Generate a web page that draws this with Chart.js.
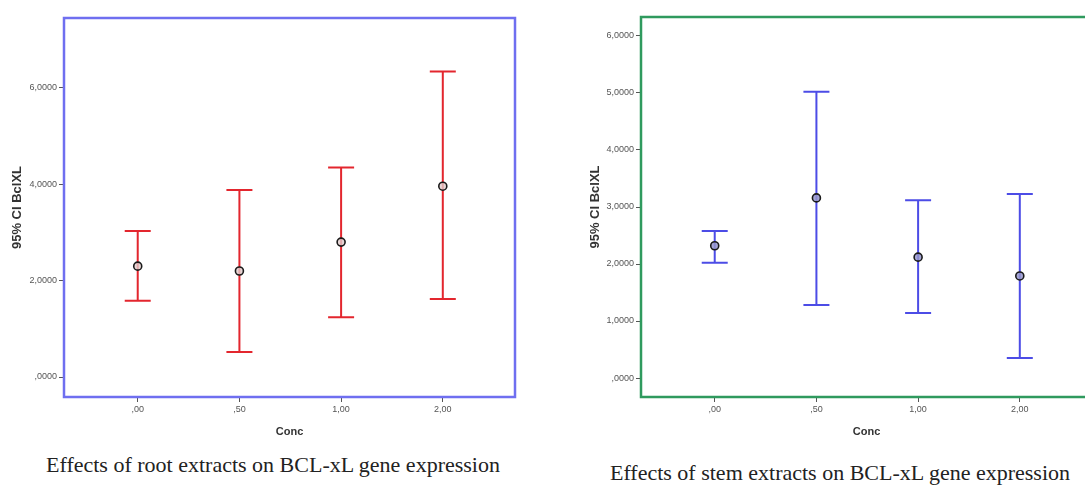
<!DOCTYPE html>
<html>
<head>
<meta charset="utf-8">
<script src="https://cdn.jsdelivr.net/npm/chart.js@4.4.0/dist/chart.umd.min.js"></script>
<style>
html,body{margin:0;padding:0;background:#fff;overflow:hidden;width:1085px;height:486px;}
#c1{position:absolute;left:0;top:0;}
#c2{position:absolute;left:577px;top:0;}
.cap{position:absolute;font-family:"Liberation Serif","Times New Roman",serif;font-size:22px;color:#222;white-space:nowrap;transform:translateX(-50%);}
</style>
</head>
<body>
<canvas id="c1" width="540" height="440"></canvas>
<canvas id="c2" width="540" height="440"></canvas>
<div class="cap" style="left:273px;top:452px;">Effects of root extracts on BCL-xL gene expression</div>
<div class="cap" style="left:840px;top:460px;">Effects of stem extracts on BCL-xL gene expression</div>
<script>
const categories = [",00", ",50", "1,00", "2,00"];

const rootMean  = [2.30, 2.20, 2.80, 3.96];
const rootUpper = [3.03, 3.88, 4.35, 6.34];
const rootLower = [1.58, 0.52, 1.24, 1.62];

const stemMean  = [2.32, 3.16, 2.12, 1.79];
const stemUpper = [2.58, 5.02, 3.12, 3.23];
const stemLower = [2.02, 1.28, 1.14, 0.35];

const rootYTicks = [0, 2, 4, 6];
const stemYTicks = [0, 1, 2, 3, 4, 5, 6];

function fmtY(v){
  const s = v.toFixed(4).replace('.', ',');
  return s.startsWith('0') ? s.slice(1) : s;
}

const errorBarPlugin = {
  id: 'errbars',
  beforeDatasetsDraw(chart, args, opts){
    const ctx = chart.ctx, xs = chart.scales.x, ys = chart.scales.y;
    ctx.save();
    ctx.strokeStyle = opts.color;
    ctx.lineWidth = 2;
    opts.upper.forEach((u, i) => {
      const x = xs.getPixelForValue(i);
      const yu = ys.getPixelForValue(u);
      const yl = ys.getPixelForValue(opts.lower[i]);
      ctx.beginPath();
      ctx.moveTo(x, yu); ctx.lineTo(x, yl);
      ctx.moveTo(x - 13, yu); ctx.lineTo(x + 13, yu);
      ctx.moveTo(x - 13, yl); ctx.lineTo(x + 13, yl);
      ctx.stroke();
    });
    ctx.restore();
  },
  afterDraw(chart, args, opts){
    const ctx = chart.ctx, a = chart.chartArea;
    ctx.save();
    ctx.strokeStyle = opts.frame;
    ctx.lineWidth = 2.5;
    ctx.strokeRect(a.left, a.top, a.right - a.left, a.bottom - a.top);
    ctx.restore();
  }
};

function makeChart(id, mean, upper, lower, yTicks, ymin, ymax, barColor, frameColor, markerFill, titlePad, topPad){
  return new Chart(document.getElementById(id), {
    type: 'scatter',
    data: {
      datasets: [{
        data: mean.map((m, i) => ({x: i, y: m})),
        pointRadius: 4,
        pointHoverRadius: 4,
        pointBorderWidth: 1.6,
        pointBorderColor: '#1a1a1a',
        pointBackgroundColor: markerFill
      }]
    },
    options: {
      responsive: false,
      animation: false,
      events: [],
      layout: {padding: {left: 0, top: topPad, right: 25, bottom: 0}},
      plugins: {
        legend: {display: false},
        tooltip: {enabled: false},
        errbars: {upper: upper, lower: lower, color: barColor, frame: frameColor}
      },
      scales: {
        x: {
          type: 'linear',
          min: -0.725, max: 3.71,
          afterBuildTicks(s){ s.ticks = categories.map((c, i) => ({value: i})); },
          afterFit(s){ s.height = 43; },
          ticks: {
            callback: (v) => categories[v],
            font: {family: 'Liberation Sans', size: 9},
            color: '#555',
            padding: 2,
            maxRotation: 0, autoSkip: false
          },
          grid: {drawOnChartArea: false, drawTicks: true, tickLength: 5, color: '#555', lineWidth: 1},
          border: {display: false},
          title: {
            display: true, text: 'Conc',
            font: {family: 'Liberation Sans', size: 11, weight: 'bold'},
            color: '#333',
            padding: {top: 0, bottom: 1}
          }
        },
        y: {
          type: 'linear',
          min: ymin, max: ymax,
          afterBuildTicks(s){ s.ticks = yTicks.map(v => ({value: v})); },
          afterFit(s){ s.width = 64; },
          ticks: {
            callback: (v) => fmtY(v),
            font: {family: 'Liberation Sans', size: 9},
            color: '#555',
            padding: 2,
            autoSkip: false
          },
          grid: {drawOnChartArea: false, drawTicks: true, tickLength: 5, color: '#555', lineWidth: 1},
          border: {display: false},
          title: {
            display: true, text: '95% CI BclXL',
            font: {family: 'Liberation Sans', size: 13, weight: 'bold'},
            color: '#333',
            padding: {top: titlePad, bottom: 0}
          }
        }
      }
    },
    plugins: [errorBarPlugin]
  });
}

makeChart('c1', rootMean, rootUpper, rootLower, rootYTicks, -0.415, 7.45, '#e3262e', '#6f6ff0', 'rgba(225,205,205,0.8)', 10, 18);
makeChart('c2', stemMean, stemUpper, stemLower, stemYTicks, -0.333, 6.333, '#4c4ce6', '#2f9a5e', 'rgba(150,150,205,0.85)', 11, 17);
</script>
</body>
</html>
